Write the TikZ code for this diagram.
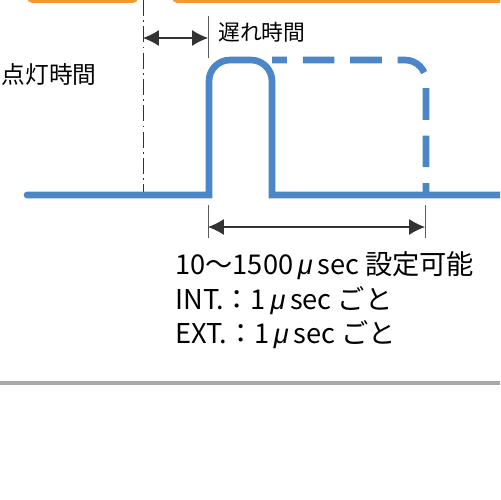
\documentclass[tikz,border=0pt]{standalone}
\usepackage{fontspec}
\setmainfont{Noto Sans CJK JP}
\newfontfamily\mufont{Liberation Sans}
\usepackage{xcolor}
\usepackage{tikz}
\usetikzlibrary{arrows.meta}
\definecolor{ltblue}{RGB}{74,134,200}
\definecolor{ltorange}{RGB}{243,154,46}
\definecolor{ltgray}{RGB}{167,169,172}
\definecolor{ltdark}{RGB}{51,51,51}
\newcommand{\umu}{{\mufont\itshape μ}}

\tikzset{
    pulse/.style={draw=ltblue, line width=3.8pt},
    dimline/.style={draw=ltdark, line width=0.6pt,
        {Latex[length=9pt,width=9pt]}-{Latex[length=9pt,width=9pt]}},
    tick/.style={draw=ltdark!80, line width=0.5pt},
    lbl/.style={inner sep=0pt, font=\fontsize{12.4}{14}\selectfont},
    note/.style={inner sep=0pt, anchor=west, font=\fontsize{15.5}{18}\selectfont}
}

\begin{document}
\begin{tikzpicture}[x=0.02cm, y=-0.02cm]
    \useasboundingbox (0,0) rectangle (500,500);
    \clip (0,0) rectangle (500,500);

    % orange bars at the top
    \fill[ltorange, rounded corners=3pt] (27,-10) rectangle (138,3);
    \fill[ltorange, rounded corners=3pt] (172,-10) rectangle (520,3);

    % trigger line
    \coordinate (trigtop) at (143,0);
    \coordinate (trigbot) at (143,195);
    \draw[ltdark, line width=0.5pt, dash pattern=on 9pt off 2.5pt on 1pt off 2.5pt] (trigtop) -- (trigbot);

    % pulse
    \coordinate (start) at (27,195);
    \coordinate (riseb) at (209,195);
    \coordinate (riset) at (209,60);
    \coordinate (fallt) at (272,60);
    \coordinate (fallb) at (272,195);
    \coordinate (finish) at (520,195);
    \coordinate (maxt) at (426,60);
    \coordinate (maxb) at (426,195);
    \draw[pulse, line cap=round] (start) -- (riseb)
        [rounded corners=12] -- (riset) -- (fallt) [sharp corners] -- (fallb) -- (finish);
    \draw[pulse, rounded corners=12, dash pattern=on 18pt off 9pt, dash phase=9.5pt]
        (fallt) -- (maxt) -- (maxb);

    % delay
    \coordinate (dtop) at (208,16);
    \coordinate (dbot) at (208,58);
    \draw[tick] (dtop) -- (dbot);
    \coordinate (dl) at (143,38);
    \coordinate (dr) at (208,38);
    \draw[dimline] (dl) -- (dr);
    \node[lbl, anchor=west] (delay) at (218,32) {遅れ時間};

    \node[lbl, anchor=east, font=\fontsize{13.5}{15}\selectfont] (ontime) at (97,74) {点灯時間};

    % width range
    \coordinate (wltop) at (208,205);
    \coordinate (wlbot) at (208,238);
    \coordinate (wrtop) at (425,205);
    \coordinate (wrbot) at (425,238);
    \draw[tick] (wltop) -- (wlbot);
    \draw[tick] (wrtop) -- (wrbot);
    \coordinate (wl) at (208,227);
    \coordinate (wr) at (425,227);
    \draw[dimline] (wl) -- (wr);

    \node[note] (range) at (175,266) {10〜1500\,\umu\,sec 設定可能};
    \node[note] (intstep) at (175,301) {INT.：1\,\umu\,sec ごと};
    \node[note] (extstep) at (175,335) {EXT.：1\,\umu\,sec ごと};

    % separator
    \coordinate (sepl) at (0,383);
    \coordinate (sepr) at (500,383);
    \draw[ltgray, line width=2.3pt] (sepl) -- (sepr);
\end{tikzpicture}
\end{document}
